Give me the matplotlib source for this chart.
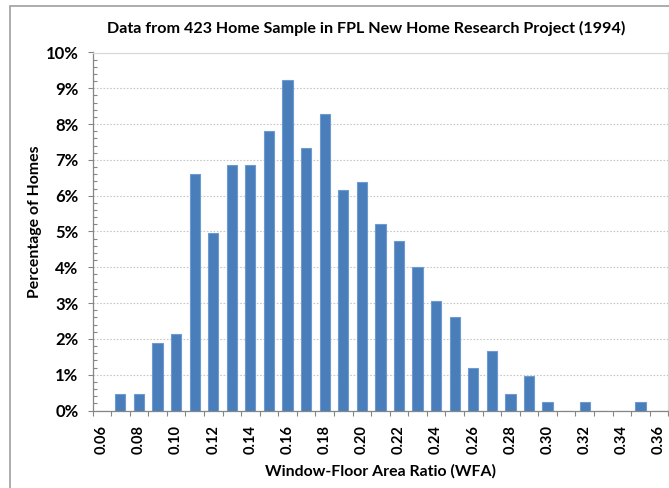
import matplotlib
matplotlib.use("Agg")
import matplotlib.pyplot as plt
from matplotlib.patches import Rectangle
from matplotlib.ticker import MultipleLocator, FixedLocator

plt.rcParams['font.family'] = ['Lato', 'DejaVu Sans']

# Data
categories = ["0.06", "0.07", "0.08", "0.09", "0.10", "0.11", "0.12", "0.13", "0.14", "0.15",
              "0.16", "0.17", "0.18", "0.19", "0.20", "0.21", "0.22", "0.23", "0.24", "0.25",
              "0.26", "0.27", "0.28", "0.29", "0.30", "0.31", "0.32", "0.33", "0.34", "0.35", "0.36"]
percent_homes = [0.00, 0.47, 0.47, 1.89, 2.13, 6.62, 4.96, 6.86, 6.86, 7.80,
                 9.22, 7.33, 8.27, 6.15, 6.38, 5.20, 4.73, 4.02, 3.07, 2.60,
                 1.18, 1.65, 0.47, 0.95, 0.24, 0.00, 0.24, 0.00, 0.00, 0.24, 0.00]
y_ticks = [0, 1, 2, 3, 4, 5, 6, 7, 8, 9, 10]

W, H = 669, 488
fig = plt.figure(figsize=(W / 100, H / 100), dpi=100)

# figure border
fig.patches.append(Rectangle((10 / W, -0.1), (W + 20) / W, (H - 6.5) / H + 0.1,
                             transform=fig.transFigure, fill=False,
                             edgecolor='#A6A6A6', linewidth=1.3))

left, right, top, bottom = 92.5, 668.3, 52.5, 410.5
ax = fig.add_axes([left / W, 1 - bottom / H, (right - left) / W, (bottom - top) / H])

x = list(range(len(categories)))
ax.bar(x, percent_homes, width=0.55, color='#4A7EBB', edgecolor='#6E9AD2', linewidth=0.8, zorder=3)

ax.set_xlim(-0.5, len(categories) - 0.5)
ax.set_ylim(0, 10)

# y axis
ax.yaxis.set_major_locator(FixedLocator(y_ticks))
ax.yaxis.set_minor_locator(MultipleLocator(0.2))
ax.set_yticklabels([f"{v}%" for v in y_ticks], fontsize=12, fontweight='bold')
ax.tick_params(axis='y', which='major', direction='out', length=3.6, width=0.8, color='#868686', pad=6.5)
ax.tick_params(axis='y', which='minor', direction='in', length=2.9, width=0.8, color='#868686')
ax.grid(axis='y', which='major', color='#C8C8C8', linestyle=(0, (1.5, 1.5)), linewidth=0.8, zorder=0)

# x axis
ax.set_xticks(x[::2])
ax.set_xticklabels(categories[::2], rotation=90, fontsize=10.5, fontweight='bold')
ax.set_xticks([i - 0.5 for i in range(len(categories) + 1)], minor=True)
ax.tick_params(axis='x', which='major', length=0, pad=10.5)
ax.tick_params(axis='x', which='minor', direction='out', length=3.6, width=0.8, color='#868686')

for s in ['left', 'bottom']:
    ax.spines[s].set_color('#868686')
    ax.spines[s].set_linewidth(0.9)
for s in ['top', 'right']:
    ax.spines[s].set_color('#D9D9D9')
    ax.spines[s].set_linewidth(0.9)

ax.set_ylabel('Percentage of Homes', fontsize=11.4, fontweight='bold')
ax.yaxis.set_label_coords((42 - left) / (right - left), (bottom - 222) / (bottom - top))
ax.set_xlabel('Window-Floor Area Ratio (WFA)', fontsize=11.4, fontweight='bold')
ax.xaxis.set_label_coords(0.5, (bottom - 464) / (bottom - top))

fig.text(366.5 / W, 1 - 28 / H, 'Data from 423 Home Sample in FPL New Home Research Project (1994)',
         ha='center', va='center', fontsize=11.6, fontweight='bold')

fig.savefig('out.png', dpi=100)
